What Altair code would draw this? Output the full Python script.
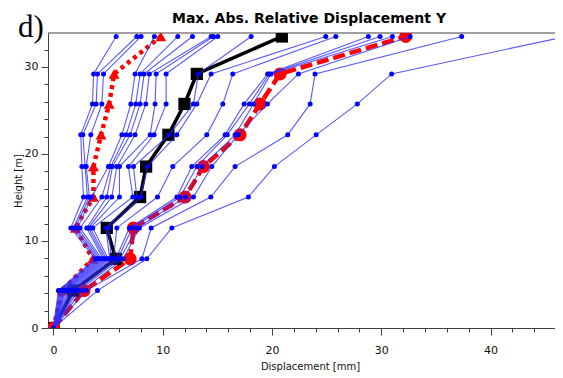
import altair as alt
import pandas as pd

# storey heights [m]
heights = [0, 4.3, 7.95, 11.5, 15.05, 18.55, 22.2, 25.75, 29.2, 33.5]

# displacement [mm] of the 18 records at each storey (sorted per storey)
level_0 = [0, 0, 0, 0, 0, 0, 0, 0, 0, 0, 0, 0, 0, 0, 0, 0, 0, 0]
level_1 = [0.45, 0.55, 0.65, 0.75, 0.85, 0.95, 1.05, 1.15, 1.3, 1.45, 1.6, 1.75, 1.9, 2.1, 2.3, 2.6, 3.0, 4.03]
level_2 = [3.8, 3.95, 4.1, 4.25, 4.4, 4.55, 4.7, 4.85, 5.0, 5.15, 5.3, 5.5, 5.7, 5.9, 6.1, 6.4, 8.09, 8.54]
level_3 = [1.59, 1.83, 2.0, 2.2, 2.44, 3.05, 3.2, 3.36, 3.6, 4.8, 5.03, 5.8, 6.95, 7.2, 7.63, 7.87, 8.94, 10.83]
level_4 = [2.75, 3.11, 3.29, 3.5, 4.43, 4.88, 5.34, 6.04, 7.26, 7.63, 8.0, 9.52, 11.29, 11.59, 12.1, 12.81, 14.4, 17.84]
level_5 = [2.6, 2.9, 3.0, 5.03, 5.25, 5.4, 5.8, 6.04, 6.86, 7.32, 8.6, 10.92, 12.66, 13.12, 13.6, 14.49, 16.62, 20.22]
level_6 = [2.5, 2.69, 3.42, 6.26, 6.65, 7.02, 7.47, 8.85, 9.21, 10.6, 11.29, 14.03, 15.71, 15.9, 16.62, 16.9, 21.44, 24.04]
level_7 = [3.57, 3.91, 4.43, 7.08, 7.53, 7.93, 8.45, 9.3, 10.31, 12.81, 13.12, 15.5, 17.45, 17.93, 18.3, 19.58, 23.49, 27.81]
level_8 = [3.67, 4.03, 4.58, 7.47, 7.93, 8.3, 8.78, 9.4, 10.31, 13.27, 14.43, 16.41, 19.6, 19.75, 19.9, 22.42, 23.94, 30.95]
level_9 = [5.74, 7.63, 8.02, 9.24, 11.38, 12.72, 14.43, 14.64, 15.04, 18.09, 24.92, 25.84, 28.82, 29.89, 31.02, 32.64, 37.36, 46.9]
levels = [level_0, level_1, level_2, level_3, level_4, level_5, level_6, level_7, level_8, level_9]

# summary curves [mm]
mean_disp = [0, 1.8, 5.7, 4.88, 7.93, 8.48, 10.52, 11.99, 13.12, 20.9]
upper_disp = [0, 2.8, 7.02, 7.32, 12.05, 13.72, 17.08, 18.91, 20.74, 32.24]
lower_disp = [0, 0.8, 3.6, 2.0, 3.66, 3.66, 4.36, 5.1, 5.55, 9.82]

title_text = ["Max. Abs. Relative Displacement Y"]
panel_label = ["d)"]
x_title = "Displacement [mm]"
y_title = "Height [m]"
x_tick_values = list(range(0, 47, 2))
y_tick_values = list(range(0, 35, 2))

rows = []
for i in range(18):
    for k, h in enumerate(heights):
        rows.append({"rec": i, "h": h, "d": levels[k][i]})
records = pd.DataFrame(rows)

mean_df = pd.DataFrame({"h": heights, "d": mean_disp})
upper_df = pd.DataFrame({"h": heights, "d": upper_disp})
lower_df = pd.DataFrame({"h": heights, "d": lower_disp})

xscale = alt.Scale(domain=[-0.5, 45.9], nice=False, zero=False)
yscale = alt.Scale(domain=[0, 33.9], nice=False, zero=False)

axis_common = dict(
    grid=False,
    domainColor="#404040",
    tickColor="#404040",
    labelFont="DejaVu Sans",
    labelFontSize=11,
    labelColor="#111111",
    labelOverlap=False,
    labelFlush=False,
    titleFont="DejaVu Sans",
    titleFontSize=10,
    titleFontWeight="normal",
    titleColor="#111111",
    labelExpr="datum.value % 10 === 0 ? datum.label : ''",
    tickSize={"condition": {"test": "datum.value % 10 === 0", "value": 7}, "value": 4},
)

xaxis = alt.Axis(values=x_tick_values, orient="bottom", title=x_title, labelPadding=9,
                 titleX=262, titleY=41, titleBaseline="alphabetic", titleAlign="center",
                 **axis_common)
yaxis = alt.Axis(values=y_tick_values, orient="left", title=y_title, labelPadding=3,
                 titleX=-27, titleBaseline="alphabetic", titleAngle=-90, **axis_common)


def X():
    return alt.X("d:Q", scale=xscale, axis=xaxis)


def Y():
    return alt.Y("h:Q", scale=yscale, axis=yaxis)


top_border = alt.Chart(pd.DataFrame({"k": [0]})).mark_rule(color="#404040", strokeWidth=1).encode(
    y=alt.value(0)
)

mean_line = alt.Chart(mean_df).mark_line(color="black", strokeWidth=3.5, clip=True).encode(
    x=X(), y=Y(), order="h:Q")
mean_pts = alt.Chart(mean_df).mark_point(shape="square", filled=True, color="black", size=150,
                                          opacity=1, clip=True).encode(x=X(), y=Y())

lower_line = alt.Chart(lower_df).mark_line(color="#ff0000", strokeWidth=4.5, strokeDash=[4, 4],
                                           clip=True).encode(x=X(), y=Y(), order="h:Q")
lower_pts = alt.Chart(lower_df).mark_point(shape="triangle-up", filled=True, color="#ff0000",
                                            size=120, opacity=1, clip=True).encode(x=X(), y=Y())

upper_line = alt.Chart(upper_df).mark_line(color="#ff0000", strokeWidth=4.5, strokeDash=[12, 5],
                                           clip=True).encode(x=X(), y=Y(), order="h:Q")
upper_pts = alt.Chart(upper_df).mark_point(shape="circle", filled=True, color="#ff0000", size=170,
                                            opacity=1, clip=True).encode(x=X(), y=Y())

rec_lines = alt.Chart(records).mark_line(color="#3030ff", strokeWidth=1.1, opacity=0.8, clip=True).encode(
    x=X(), y=Y(), detail="rec:N", order="h:Q")
rec_pts = alt.Chart(records).mark_circle(color="#0000ff", size=25, opacity=1, clip=True).encode(
    x=X(), y=Y())

label = alt.Chart(pd.DataFrame({"t": panel_label})).mark_text(
    font="Liberation Serif", fontSize=31, align="left", baseline="alphabetic", color="black"
).encode(text="t:N", x=alt.value(-30), y=alt.value(4))

title = alt.Chart(pd.DataFrame({"t": title_text})).mark_text(
    font="DejaVu Sans", fontSize=14, fontWeight="bold", align="center", baseline="alphabetic",
    color="black"
).encode(text="t:N", x=alt.value(261), y=alt.value(-10))

chart = alt.layer(
    top_border, mean_line, lower_line, upper_line, mean_pts, lower_pts, upper_pts,
    rec_lines, rec_pts, label, title
).properties(
    width=507,
    height=295,
    autosize=alt.AutoSizeParams(type="none"),
    padding={"left": 40, "top": 25, "right": 0, "bottom": 48},
    background="white",
).configure_view(strokeWidth=0)

chart.save("out.html", embed_options={"renderer": "svg", "actions": False})
